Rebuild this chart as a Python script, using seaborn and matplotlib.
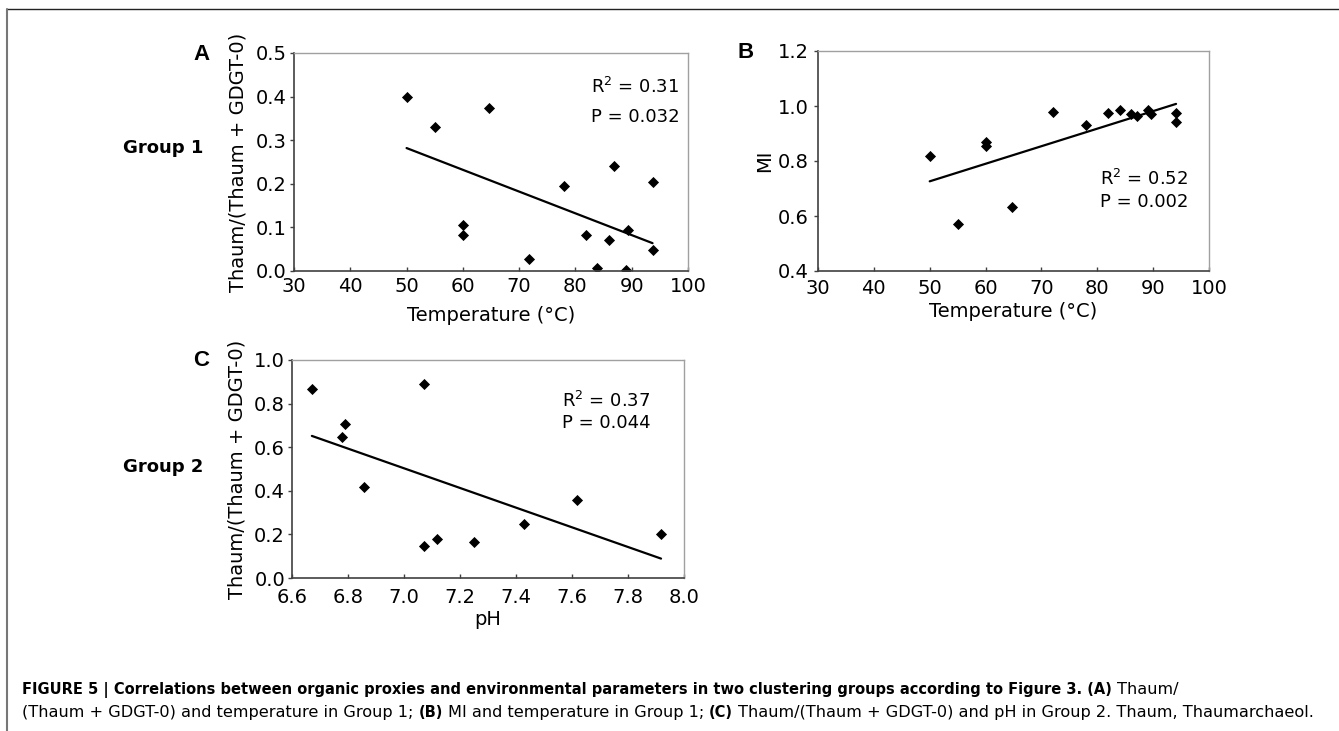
import matplotlib.pyplot as plt
import seaborn as sns
from matplotlib.lines import Line2D
from matplotlib.ticker import FormatStrFormatter, MultipleLocator

# Group 1: temperature vs Thaum/(Thaum + GDGT-0)
temp_a = [50, 55, 64.6, 60, 60, 71.8, 77.9, 81.8, 83.8, 85.9, 86.8, 88.9, 89.3, 93.7, 93.7]
thaum_a = [0.400, 0.330, 0.374, 0.106, 0.083, 0.028, 0.196, 0.083, 0.008, 0.071, 0.240, 0.002, 0.093, 0.205, 0.048]

# Group 1: temperature vs MI
temp_b = [50, 55, 60, 60, 64.7, 72, 77.9, 82, 84.1, 86, 87.1, 89, 89.6, 94.1, 94.1]
mi_b = [0.817, 0.571, 0.870, 0.853, 0.631, 0.979, 0.930, 0.975, 0.984, 0.970, 0.962, 0.987, 0.971, 0.975, 0.942]

# Group 2: pH vs Thaum/(Thaum + GDGT-0)
ph_c = [6.671, 7.070, 6.788, 6.780, 6.858, 7.070, 7.117, 7.249, 7.430, 7.618, 7.918]
thaum_c = [0.865, 0.888, 0.708, 0.646, 0.417, 0.147, 0.181, 0.164, 0.248, 0.360, 0.204]

stats_a = ["R$^2$ = 0.31", "P = 0.032"]
stats_b = ["R$^2$ = 0.52", "P = 0.002"]
stats_c = ["R$^2$ = 0.37", "P = 0.044"]

sns.set_style("ticks")
plt.rcParams['font.family'] = ['DejaVu Sans']
plt.rcParams['text.color'] = 'black'
plt.rcParams['axes.labelcolor'] = 'black'
plt.rcParams['xtick.color'] = 'black'
plt.rcParams['ytick.color'] = 'black'

W, H = 1339, 731
fig = plt.figure(figsize=(W / 100, H / 100), dpi=100)


def px_axes(left, top, right, bottom):
    return fig.add_axes([left / W, 1 - bottom / H, (right - left) / W, (bottom - top) / H])


def style_axes(ax, xpad, ypad):
    for side in ['top', 'right']:
        ax.spines[side].set_color('#a0a0a0')
        ax.spines[side].set_linewidth(1.0)
    for side in ['left', 'bottom']:
        ax.spines[side].set_color('#404040')
        ax.spines[side].set_linewidth(1.2)
    ax.tick_params(axis='x', direction='in', length=3, width=1, color='#404040', labelsize=14, pad=xpad)
    ax.tick_params(axis='y', direction='out', length=3, width=1, color='#404040', labelsize=14, pad=ypad)


def fit_plot(x, y, ax):
    sns.regplot(x=x, y=y, ax=ax, ci=None, marker='D', color='black',
                scatter_kws={'s': 32, 'linewidths': 0, 'alpha': 1},
                line_kws={'linewidth': 1.6})


def fig_text(x, y, s, **kw):
    fig.text(x / W, 1 - y / H, s, **kw)


ax_a = px_axes(294, 53, 688, 271)
ax_b = px_axes(818, 51, 1209, 271)
ax_c = px_axes(292, 360, 684, 578)

# panel A
fit_plot(temp_a, thaum_a, ax_a)
ax_a.set_xlim(30, 100)
ax_a.set_ylim(0, 0.5)
ax_a.xaxis.set_major_locator(MultipleLocator(10))
ax_a.yaxis.set_major_locator(MultipleLocator(0.1))
ax_a.yaxis.set_major_formatter(FormatStrFormatter('%.1f'))
ax_a.set_xlabel('Temperature (°C)', fontsize=14)
ax_a.set_ylabel('Thaum/(Thaum + GDGT-0)', fontsize=14)
ax_a.xaxis.set_label_coords(0.5, -0.16)
ax_a.yaxis.set_label_coords(-0.119, 0.5)
style_axes(ax_a, 4, 2.5)

# panel B
fit_plot(temp_b, mi_b, ax_b)
ax_b.set_xlim(30, 100)
ax_b.set_ylim(0.4, 1.2)
ax_b.xaxis.set_major_locator(MultipleLocator(10))
ax_b.yaxis.set_major_locator(MultipleLocator(0.2))
ax_b.yaxis.set_major_formatter(FormatStrFormatter('%.1f'))
ax_b.set_xlabel('Temperature (°C)', fontsize=14)
ax_b.set_ylabel('MI', fontsize=14)
ax_b.xaxis.set_label_coords(0.5, -0.14)
ax_b.yaxis.set_label_coords(-0.1125, 0.5)
style_axes(ax_b, 6, 3.5)

# panel C
fit_plot(ph_c, thaum_c, ax_c)
ax_c.set_xlim(6.6, 8.0)
ax_c.set_ylim(0, 1.0)
ax_c.xaxis.set_major_locator(MultipleLocator(0.2))
ax_c.yaxis.set_major_locator(MultipleLocator(0.2))
ax_c.xaxis.set_major_formatter(FormatStrFormatter('%.1f'))
ax_c.yaxis.set_major_formatter(FormatStrFormatter('%.1f'))
ax_c.set_xlabel('pH', fontsize=14)
ax_c.set_ylabel('Thaum/(Thaum + GDGT-0)', fontsize=14)
ax_c.xaxis.set_label_coords(0.5, -0.145)
ax_c.yaxis.set_label_coords(-0.115, 0.5)
style_axes(ax_c, 7, 2)

# statistics
for (x, y0, y1), stats in zip([(591, 87, 117), (1100, 179, 202), (562, 401, 423)],
                              [stats_a, stats_b, stats_c]):
    fig_text(x, y0, stats[0], fontsize=13, ha='left', va='center')
    fig_text(x, y1, stats[1], fontsize=13, ha='left', va='center')

# panel letters and group names
for x, y, s in [(202, 54, 'A'), (746, 53, 'B'), (201, 361, 'C')]:
    fig_text(x, y, s, fontsize=16, weight='bold', ha='center', va='center', family='Liberation Sans')
fig_text(163, 148, 'Group 1', fontsize=13, weight='bold', ha='center', va='center')
fig_text(163, 467, 'Group 2', fontsize=13, weight='bold', ha='center', va='center')

# frame lines around the figure
fig.add_artist(Line2D([7 / W, 1], [1 - 9 / H, 1 - 9 / H], color='#222222', linewidth=1.0))
fig.add_artist(Line2D([7 / W, 7 / W], [0, 1 - 9 / H], color='#777777', linewidth=1.5))

# caption with mixed weights
cap_sizes = {'bold': 10.55, 'normal': 11.6}
renderer = fig.canvas.get_renderer()


def caption_line(x, y, parts):
    for s, weight in parts:
        size = cap_sizes[weight]
        t = fig.text(x / W, 1 - y / H, s, fontsize=size, weight=weight, ha='left', va='baseline')
        x += t.get_window_extent(renderer).width + 0.318 * size * 100 / 72


caption_line(22, 694, [
    ("FIGURE 5 | Correlations between organic proxies and environmental parameters "
     "in two clustering groups according to Figure 3. (A)", 'bold'),
    ("Thaum/", 'normal'),
])
caption_line(22, 717, [
    ("(Thaum + GDGT-0) and temperature in Group 1;", 'normal'),
    ("(B)", 'bold'),
    ("MI and temperature in Group 1;", 'normal'),
    ("(C)", 'bold'),
    ("Thaum/(Thaum + GDGT-0) and pH in Group 2. Thaum, Thaumarchaeol.", 'normal'),
])

fig.savefig('out.png', dpi=100)
